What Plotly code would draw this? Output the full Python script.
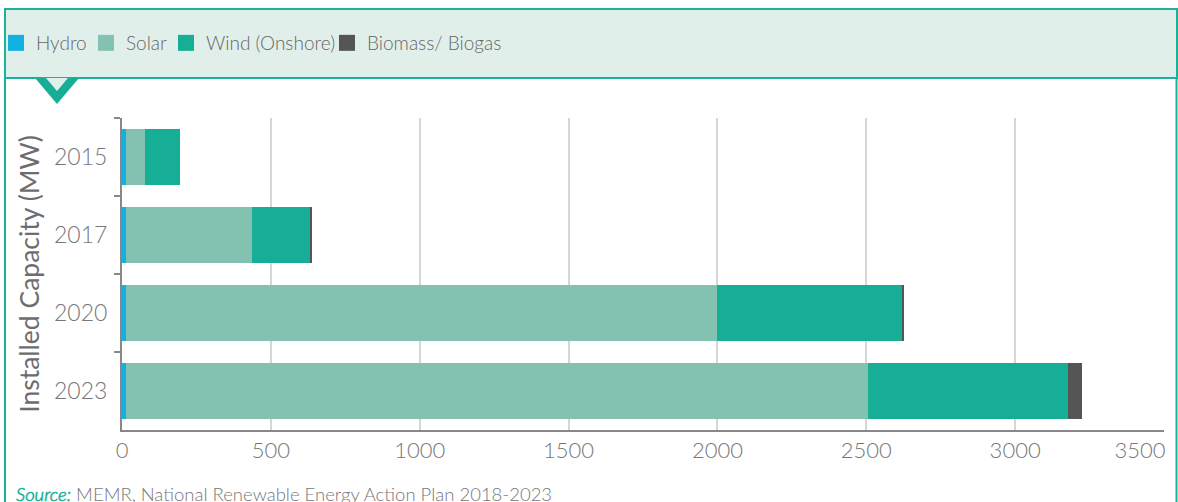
import plotly.graph_objects as go

years = ["2015", "2017", "2020", "2023"]
hydro = [12, 12, 12, 12]
solar = [65, 425, 1987, 2494]
wind = [118, 196, 620, 672]
biomass = [0, 2, 7, 47]
xticks = [0, 500, 1000, 1500, 2000, 2500, 3000, 3500]

series = [
    ("Hydro", hydro, "#13b0e2"),
    ("Solar", solar, "#83c2b0"),
    ("Wind (Onshore)", wind, "#17ae98"),
    ("Biomass/ Biogas", biomass, "#555555"),
]
# left pixel of each legend entry in the header band
legend_px = [-4, 86, 166, 327]

W, H = 1178, 502
L, R, T, B = 122, 14, 118, 72
pw, ph = W - L - R, H - T - B
TEAL = "#1ab39a"
PALE = "#e1efeb"
FONT = "'Lato Light', Lato, 'Open Sans', sans-serif"


# pixel -> paper coords
def px(x):
    return (x - L) / pw


def py(y):
    return (H - B - y) / ph


fig = go.Figure()
for name, vals, col in series:
    fig.add_trace(go.Bar(
        y=years, x=vals, name=name, orientation="h", showlegend=False,
        marker=dict(color=col, line=dict(width=0)),
    ))

# legend entries, one legend each so they can be placed like the original
legend_layout = {}
for i, (name, vals, col) in enumerate(series):
    key = "legend" if i == 0 else f"legend{i + 1}"
    fig.add_trace(go.Scatter(
        x=[None], y=[None], mode="markers", name=name, legend=key,
        marker=dict(symbol="square", size=17, color=col),
    ))
    legend_layout[key] = dict(
        orientation="h", x=px(legend_px[i]), y=py(43), xanchor="left", yanchor="middle",
        bgcolor="rgba(0,0,0,0)", font=dict(family=FONT, size=19, color="#666666"),
        itemwidth=30,
    )

shapes = [
    # header band
    dict(type="rect", xref="paper", yref="paper", x0=px(5), x1=px(1177), y0=py(78), y1=py(9),
         fillcolor=PALE, line=dict(color=TEAL, width=2), layer="below"),
    # side borders
    dict(type="line", xref="paper", yref="paper", x0=px(5), x1=px(5), y0=py(78), y1=py(505),
         line=dict(color=TEAL, width=2)),
    dict(type="line", xref="paper", yref="paper", x0=px(1176.5), x1=px(1176.5), y0=py(78), y1=py(505),
         line=dict(color=TEAL, width=2)),
    # chevron pointer
    dict(type="path", xref="paper", yref="paper",
         path=f"M {px(35)},{py(78)} L {px(79)},{py(78)} L {px(57)},{py(104)} Z",
         fillcolor="#17ae98", line=dict(width=0)),
    dict(type="path", xref="paper", yref="paper",
         path=f"M {px(46)},{py(78)} L {px(68)},{py(78)} L {px(57)},{py(91)} Z",
         fillcolor=PALE, line=dict(width=0)),
]

ticktext = [str(v) for v in xticks]
ticktext[-1] = ticktext[-1] + "&nbsp;" * 8

fig.update_layout(
    width=W, height=H,
    margin=dict(l=L, r=R, t=T, b=B, autoexpand=False),
    barmode="stack", bargap=0.27,
    plot_bgcolor="white", paper_bgcolor="white",
    font=dict(family=FONT, color="#6d6d6d", size=21),
    shapes=shapes,
    **legend_layout,
    xaxis=dict(
        range=[0, 3500], tickvals=xticks, ticktext=ticktext, ticklabeloverflow="allow",
        showgrid=True, gridcolor="#d6d6d6", gridwidth=1.5,
        showline=True, linecolor="#888888", linewidth=2, zeroline=False,
        ticks="", tickfont=dict(size=22, color="#777777"), fixedrange=True,
    ),
    yaxis=dict(
        type="category", categoryorder="array", categoryarray=years, autorange="reversed",
        showline=True, linecolor="#888888", linewidth=2,
        ticks="outside", tickson="boundaries", ticklen=6, tickcolor="#888888", tickwidth=2,
        ticklabelstandoff=8,
        tickfont=dict(size=23, color="#777777"),
        title=dict(text="Installed Capacity (MW)",
                   font=dict(family="Lato, sans-serif", size=26.5, color="#6d6d6d"), standoff=7),
    ),
    annotations=[
        dict(xref="paper", yref="paper", x=px(13), y=py(494), xanchor="left", yanchor="middle",
             showarrow=False, font=dict(size=18.5, color="#777777", family=FONT),
             text="<b><i><span style='color:#1ab39a'>Source:</span></i></b> MEMR, National Renewable Energy Action Plan 2018-2023"),
    ],
)

fig.write_html("out.html", post_script="document.body.style.margin='0';",
               config={"displayModeBar": False})
